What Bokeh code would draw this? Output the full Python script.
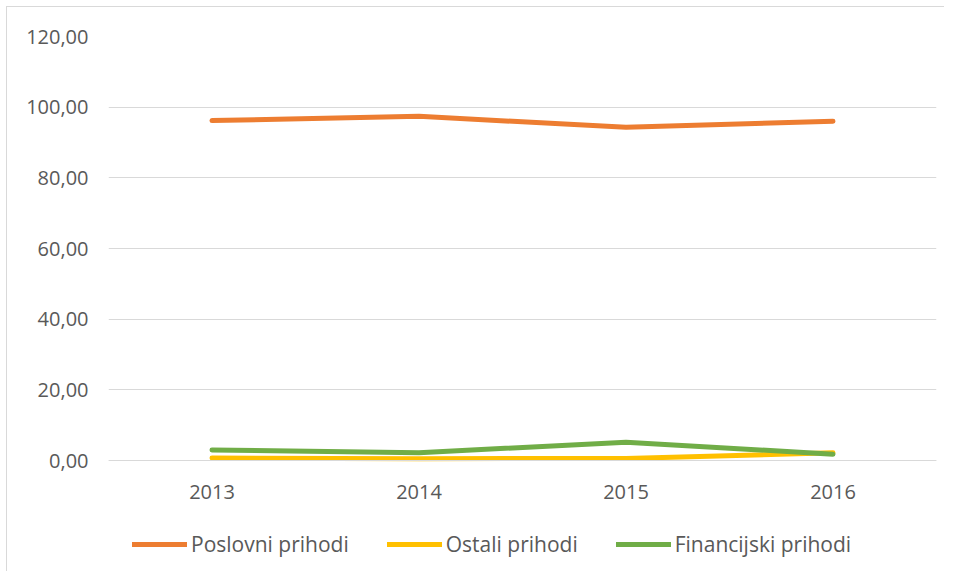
from bokeh.plotting import figure
from bokeh.models import FactorRange, Range1d, FixedTicker, Legend, LegendItem
from bokeh.embed import file_html
from bokeh.resources import INLINE

years = ["2013", "2014", "2015", "2016"]
poslovni = [96.2, 97.4, 94.3, 96.0]
ostali = [0.7, 0.5, 0.6, 2.2]
financijski = [3.0, 2.2, 5.2, 1.8]
series_names = ["Poslovni prihodi", "Ostali prihodi", "Financijski prihodi"]
y_ticks = [0, 20, 40, 60, 80, 100, 120]
y_tick_labels = ["0,00", "20,00", "40,00", "60,00", "80,00", "100,00", "120,00"]

colors = ["#ED7D31", "#FFC000", "#70AD47"]
FONT = "Open Sans"
TXT = "#595959"

# frame extends below zero so the legend (drawn inside the frame) sits under the x labels
p = figure(frame_width=828, frame_height=535, x_range=FactorRange(*years), y_range=Range1d(-31.4, 120),
           output_backend="svg", toolbar_location=None,
           min_border_left=101, min_border_right=8, min_border_top=29, min_border_bottom=0)
p.styles = {"border-left": "1px solid #D9D9D9", "border-top": "1px solid #D9D9D9",
            "margin-left": "6px", "margin-top": "6px"}
p.outline_line_color = None
p.background_fill_color = "white"

renderers = []
for vals, col in zip([poslovni, ostali, financijski], colors):
    r = p.line(x=years, y=vals, line_color=col, line_width=5, line_cap="round", line_join="round")
    renderers.append(r)

p.xgrid.grid_line_color = None
p.ygrid.grid_line_color = "#D9D9D9"
p.ygrid.grid_line_width = 1
p.ygrid.ticker = FixedTicker(ticks=y_ticks)

p.yaxis.ticker = FixedTicker(ticks=y_ticks)
p.yaxis.major_label_overrides = {t: l for t, l in zip(y_ticks, y_tick_labels)}
p.yaxis.axis_line_color = None
p.yaxis.major_tick_line_color = None
p.yaxis.minor_tick_line_color = None
p.yaxis.major_tick_out = 0
p.yaxis.major_tick_in = 0
p.yaxis.major_label_standoff = 20
p.yaxis.major_label_text_font = FONT
p.yaxis.major_label_text_font_size = "20px"
p.yaxis.major_label_text_color = TXT

p.xaxis.fixed_location = 0
p.xaxis.axis_line_color = "#D9D9D9"
p.xaxis.major_tick_line_color = None
p.xaxis.minor_tick_line_color = None
p.xaxis.major_tick_out = 0
p.xaxis.major_tick_in = 0
p.xaxis.major_label_standoff = 24
p.xaxis.major_label_text_font = FONT
p.xaxis.major_label_text_font_size = "20px"
p.xaxis.major_label_text_color = TXT

legend = Legend(items=[LegendItem(label=n, renderers=[r]) for n, r in zip(series_names, renderers)],
                orientation="horizontal", location=(24, 13),
                glyph_width=55, glyph_height=20, label_standoff=4, spacing=38,
                label_text_font=FONT, label_text_font_size="21px", label_text_color=TXT,
                border_line_color=None, background_fill_alpha=0, padding=0, margin=0)
p.add_layout(legend, "center")

open("out.html", "w").write(file_html(p, INLINE))
